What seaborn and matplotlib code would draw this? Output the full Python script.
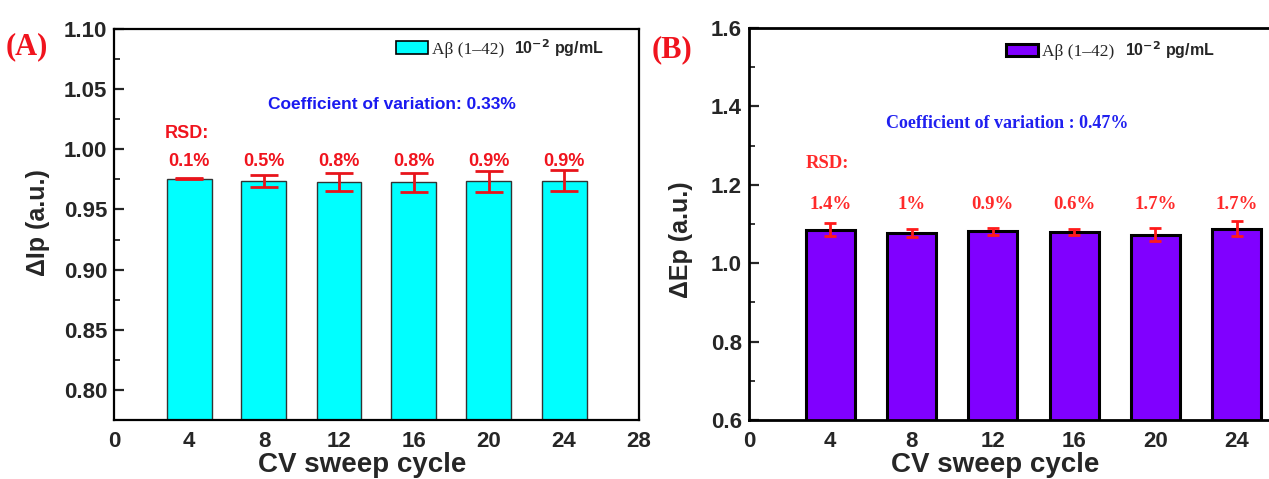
import numpy as np
import pandas as pd
import seaborn as sns
import matplotlib.pyplot as plt
from matplotlib.patches import Patch
from matplotlib.ticker import MultipleLocator

# data
cycles = [4, 8, 12, 16, 20, 24]
delta_ip = [0.9755, 0.9735, 0.9727, 0.9727, 0.9735, 0.9740]
delta_ip_err = [0.0005, 0.0050, 0.0075, 0.0080, 0.0088, 0.0085]
rsd_a = ["0.1%", "0.5%", "0.8%", "0.8%", "0.9%", "0.9%"]

delta_ep = [1.0856, 1.0770, 1.0810, 1.0790, 1.0730, 1.0880]
delta_ep_err = [0.016, 0.011, 0.010, 0.007, 0.017, 0.019]
rsd_b = ["1.4%", "1%", "0.9%", "0.6%", "1.7%", "1.7%"]

x_ticks_a = [0, 4, 8, 12, 16, 20, 24, 28]
x_ticks_b = [0, 4, 8, 12, 16, 20, 24]

df_a = pd.DataFrame({"cycle": cycles, "value": delta_ip})
df_b = pd.DataFrame({"cycle": cycles, "value": delta_ep})

sns.set_style("ticks")
plt.rcParams["font.family"] = ["Liberation Sans", "DejaVu Sans"]
plt.rcParams["font.weight"] = "bold"
plt.rcParams["axes.labelweight"] = "bold"

SERIF = ["Liberation Serif", "DejaVu Serif"]
W, H = 1269, 479
fig = plt.figure(figsize=(W / 100, H / 100), dpi=100)

ax_a = fig.add_axes([114 / W, 59 / H, 525 / W, 391 / H])
ax_b = fig.add_axes([749 / W, 59 / H, 569 / W, 392 / H])

# panel A
sns.barplot(data=df_a, x="cycle", y="value", native_scale=True, width=0.6,
            color="#00FFFF", saturation=1, edgecolor="#333333", linewidth=1.0,
            errorbar=None, ax=ax_a)
ax_a.errorbar(cycles, delta_ip, yerr=delta_ip_err, fmt="none", ecolor="#E8141B",
              elinewidth=2, capsize=10, capthick=2)
ax_a.set_xlim(0, 28)
ax_a.set_ylim(0.775, 1.10)
ax_a.set_xticks(x_ticks_a)
ax_a.yaxis.set_major_locator(MultipleLocator(0.05))
ax_a.yaxis.set_minor_locator(MultipleLocator(0.025))
ax_a.yaxis.set_major_formatter(plt.FormatStrFormatter("%.2f"))
ax_a.set_ylabel("ΔIp (a.u.)", fontsize=18)
ax_a.yaxis.set_label_coords(-0.122, 0.504)
for xi, lab in zip(cycles, rsd_a):
    ax_a.text(xi, 0.9895, lab, color="#F0141E", fontsize=13, fontweight="bold",
              ha="center", va="center")
ax_a.text(3.88, 1.013, "RSD:", color="#F0141E", fontsize=13, fontweight="bold",
          ha="center", va="center")
ax_a.text(14.8, 1.037, "Coefficient of variation: 0.33%", color="#1A1AF0",
          fontsize=12.5, fontweight="bold", ha="center", va="center")

# panel B
sns.barplot(data=df_b, x="cycle", y="value", native_scale=True, width=0.6,
            color="#8000FF", saturation=1, edgecolor="black", linewidth=2.2,
            errorbar=None, ax=ax_b)
ax_b.errorbar(cycles, delta_ep, yerr=delta_ep_err, fmt="none", ecolor="#FF1A1A",
              elinewidth=2, capsize=4.5, capthick=2)
ax_b.set_xlim(0, 28)
ax_b.set_ylim(0.6, 1.6)
ax_b.set_xticks(x_ticks_b)
ax_b.yaxis.set_major_locator(MultipleLocator(0.2))
ax_b.yaxis.set_minor_locator(MultipleLocator(0.1))
ax_b.yaxis.set_major_formatter(plt.FormatStrFormatter("%.1f"))
ax_b.set_ylabel("ΔEp (a.u.)", fontsize=18)
ax_b.yaxis.set_label_coords(-0.098, 0.46)
for xi, lab in zip(cycles, rsd_b):
    ax_b.text(xi, 1.149, lab, color="#FF2A2A", fontsize=13.5, fontweight="bold",
              family=SERIF, ha="center", va="center")
ax_b.text(3.88, 1.255, "RSD:", color="#FF2A2A", fontsize=13.5, fontweight="bold",
          family=SERIF, ha="center", va="center")
ax_b.text(12.7, 1.357, "Coefficient of variation : 0.47%", color="#2020F0",
          fontsize=13, fontweight="bold", family=SERIF, ha="center", va="center")

# legends: serif "Aβ (1–42)" label plus a bold sans concentration text after it
legends = []
for ax, col, elw, anchor in [(ax_a, "#00FFFF", 1.2, (0.537, 0.9476)),
                             (ax_b, "#8000FF", 2.2, (0.4517, 0.939))]:
    leg = ax.legend(handles=[Patch(facecolor=col, edgecolor="black", linewidth=elw)],
                    labels=["Aβ (1–42)"], loc="center left", bbox_to_anchor=anchor,
                    frameon=False, borderpad=0, borderaxespad=0,
                    handlelength=1.84, handleheight=0.75, handletextpad=0.25,
                    prop={"family": SERIF, "size": 12.5, "weight": "normal"})
    legends.append(leg)

# shared styling
for ax, lw, lx in [(ax_a, 1.6, 0.472), (ax_b, 2.0, 0.432)]:
    ax.set_xlabel("CV sweep cycle", fontsize=20)
    ax.xaxis.set_label_coords(lx, -0.082)
    ax.tick_params(axis="x", length=0, labelsize=16, pad=8)
    ax.tick_params(axis="y", which="major", direction="in", length=7, width=1.6,
                   labelsize=16, pad=5)
    ax.tick_params(axis="y", which="minor", direction="in", length=4, width=1.3)
    for side in ["left", "right", "top", "bottom"]:
        ax.spines[side].set_visible(True)
        ax.spines[side].set_linewidth(lw)
        ax.spines[side].set_color("black")
    for lbl in ax.get_xticklabels() + ax.get_yticklabels():
        lbl.set_fontweight("bold")

fig.text(27 / W, 1 - 47 / H, "(A)", color="#F0141E", fontsize=22, fontweight="bold",
         family=SERIF, ha="center", va="center")
fig.text(672 / W, 1 - 50 / H, "(B)", color="#F0141E", fontsize=22, fontweight="bold",
         family=SERIF, ha="center", va="center")

fig.canvas.draw()
for leg in legends:
    bb = leg.get_texts()[0].get_window_extent()
    fig.text((bb.x1 + 10) / W, (bb.y0 + 4) / H, "10$^{\\mathbf{-2}}$ pg/mL",
             fontsize=11.5, fontweight="bold", ha="left", va="baseline")

fig.savefig("out.png", dpi=100)
